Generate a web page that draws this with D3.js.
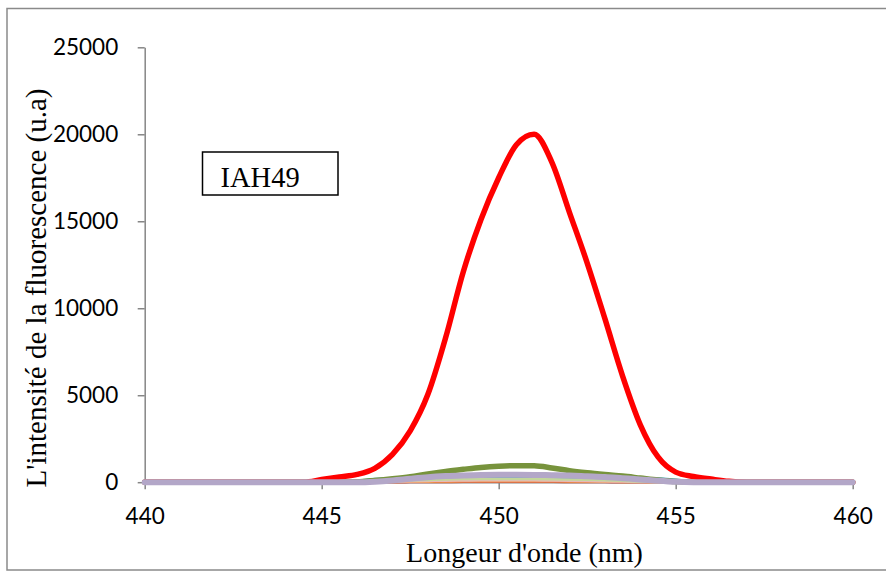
<!DOCTYPE html>
<html>
<head>
<meta charset="utf-8">
<script src="https://cdn.jsdelivr.net/npm/d3@7/dist/d3.min.js"></script>
<style>
  html, body { margin: 0; padding: 0; background: #fff; }
  svg { display: block; }
</style>
</head>
<body>
<svg id="chart" width="886" height="571"></svg>
<script>
// Emission wavelengths (nm), sampled every 0.5 nm
const wavelengths = [
  440, 440.5, 441, 441.5, 442, 442.5, 443, 443.5, 444, 444.5,
  445, 445.5, 446, 446.5, 447, 447.5, 448, 448.5, 449, 449.5,
  450, 450.5, 451, 451.5, 452, 452.5, 453, 453.5, 454, 454.5,
  455, 455.5, 456, 456.5, 457, 457.5, 458, 458.5, 459, 459.5, 460
];

// Fluorescence intensity (u.a) of each spectrum
const seriesDarkRed = [
  0, 0, 0, 0, 0, 0, 0, 0, 0, 0,
  0, 0, 0, 0, 0, 5, 10, 15, 20, 20,
  20, 20, 20, 20, 15, 10, 5, 0, 0, 0,
  0, 0, 0, 0, 0, 0, 0, 0, 0, 0, 0
];
const seriesOrange = [
  0, 0, 0, 0, 0, 0, 0, 0, 0, 0,
  0, 0, 0, 0, 10, 20, 30, 40, 50, 55,
  60, 60, 55, 50, 45, 35, 25, 15, 5, 0,
  0, 0, 0, 0, 0, 0, 0, 0, 0, 0, 0
];
const seriesPink = [
  0, 0, 0, 0, 0, 0, 0, 0, 0, 0,
  0, 0, 0, 10, 30, 50, 70, 90, 100, 110,
  110, 110, 105, 100, 90, 75, 55, 35, 15, 5,
  0, 0, 0, 0, 0, 0, 0, 0, 0, 0, 0
];
const seriesTeal = [
  0, 0, 0, 0, 0, 0, 0, 0, 0, 0,
  0, 0, 60, 170, 200, 210, 210, 210, 210, 210,
  210, 210, 210, 210, 210, 210, 210, 215, 220, 200,
  120, 40, 0, 0, 0, 0, 0, 0, 0, 0, 0
];
const seriesLightGreen = [
  0, 0, 0, 0, 0, 0, 0, 0, 0, 0,
  0, 0, 0, 20, 60, 100, 130, 160, 180, 190,
  190, 190, 185, 175, 160, 140, 110, 80, 40, 10,
  0, 0, 0, 0, 0, 0, 0, 0, 0, 0, 0
];
const seriesGreen = [
  0, 0, 0, 0, 0, 0, 0, 0, 0, 0,
  0, 0, 20, 100, 200, 320, 480, 620, 740, 850,
  920, 950, 940, 820, 660, 540, 440, 350, 240, 130,
  40, 0, 0, 0, 0, 0, 0, 0, 0, 0, 0
];
const seriesIAH49 = [
  0, 0, 0, 0, 0, 0, 0, 0, 0, 0,
  150, 300, 450, 800, 1600, 2950, 5050, 8300, 12100, 15100,
  17500, 19400, 20000, 18400, 15500, 12600, 9400, 6100, 3300, 1450,
  580, 330, 180, 50, 0, 0, 0, 0, 0, 0, 0
];
const seriesLavender = [
  0, 0, 0, 0, 0, 0, 0, 0, 0, 0,
  0, 0, 0, 30, 100, 200, 290, 350, 390, 420,
  430, 430, 420, 400, 380, 340, 300, 230, 160, 80,
  20, 0, 0, 0, 0, 0, 0, 0, 0, 0, 0
];

const xTicks = [440, 445, 450, 455, 460];
const yTicks = [0, 5000, 10000, 15000, 20000, 25000];

const seriesList = [
  { values: seriesDarkRed,    color: "#c0504d", width: 2.5 },
  { values: seriesOrange,     color: "#f79646", width: 2.5 },
  { values: seriesPink,       color: "#e6b9b8", width: 2.5 },
  { values: seriesTeal,       color: "#31a3bd", width: 3 },
  { values: seriesLightGreen, color: "#c3d69b", width: 2.5 },
  { values: seriesGreen,      color: "#77933c", width: 5.5 },
  { values: seriesIAH49,      color: "#ff0000", width: 5.5 },
  { values: seriesLavender,   color: "#b3a7c8", width: 6 }
];

const svg = d3.select("#chart");

// Outer chart frame
svg.append("rect")
  .attr("x", 7).attr("y", 8.5)
  .attr("width", 890).attr("height", 561.5)
  .attr("fill", "none")
  .attr("stroke", "#8a8a8a")
  .attr("stroke-width", 1.5);

const x = d3.scaleLinear().domain([440, 460]).range([144.7, 852.7]);
const y = d3.scaleLinear().domain([0, 25000]).range([482.2, 47.3]);

const tickFont = "Lato, 'Open Sans', sans-serif";

// Y axis
const yAxis = svg.append("g")
  .attr("transform", `translate(${x(440)},0)`)
  .call(d3.axisLeft(y).tickValues(yTicks).tickSize(7).tickSizeOuter(0).tickPadding(19.5)
    .tickFormat(d3.format("d")));
yAxis.selectAll("path, line").attr("stroke", "#868686").attr("stroke-width", 1.5);
yAxis.selectAll("text")
  .attr("font-family", tickFont).attr("font-size", 22.5).attr("fill", "#000");

// X axis
const xAxis = svg.append("g")
  .attr("transform", `translate(0,${y(0)})`)
  .call(d3.axisBottom(x).tickValues(xTicks).tickSize(7).tickSizeOuter(0).tickPadding(19)
    .tickFormat(d3.format("d")));
xAxis.selectAll("path, line").attr("stroke", "#868686").attr("stroke-width", 1.5);
xAxis.selectAll("text")
  .attr("font-family", tickFont).attr("font-size", 22.5).attr("fill", "#000");

// Spectra, smoothed without overshoot so peaks stay rounded
const line = d3.line()
  .x((d, i) => x(wavelengths[i]))
  .y(d => y(d))
  .curve(d3.curveMonotoneX);

svg.append("g").selectAll("path")
  .data(seriesList)
  .join("path")
  .attr("d", s => line(s.values))
  .attr("fill", "none")
  .attr("stroke", s => s.color)
  .attr("stroke-width", s => s.width)
  .attr("stroke-linejoin", "round")
  .attr("stroke-linecap", "round");

// Sample label box
svg.append("rect")
  .attr("x", 202.5).attr("y", 152)
  .attr("width", 135.5).attr("height", 43)
  .attr("fill", "#fff")
  .attr("stroke", "#000")
  .attr("stroke-width", 1.5);
svg.append("text")
  .attr("x", 220.5).attr("y", 186.5)
  .attr("font-family", "'Liberation Serif', 'Times New Roman', serif")
  .attr("font-size", 28.5)
  .text("IAH49");

// Axis titles
svg.append("text")
  .attr("x", 524.5).attr("y", 562)
  .attr("text-anchor", "middle")
  .attr("font-family", "'Liberation Serif', 'Times New Roman', serif")
  .attr("font-size", 28)
  .text("Longeur d'onde (nm)");

svg.append("text")
  .attr("transform", "translate(45.5,288) rotate(-90)")
  .attr("text-anchor", "middle")
  .attr("font-family", "'Liberation Serif', 'Times New Roman', serif")
  .attr("font-size", 29)
  .text("L'intensité de la fluorescence (u.a)");
</script>
</body>
</html>
